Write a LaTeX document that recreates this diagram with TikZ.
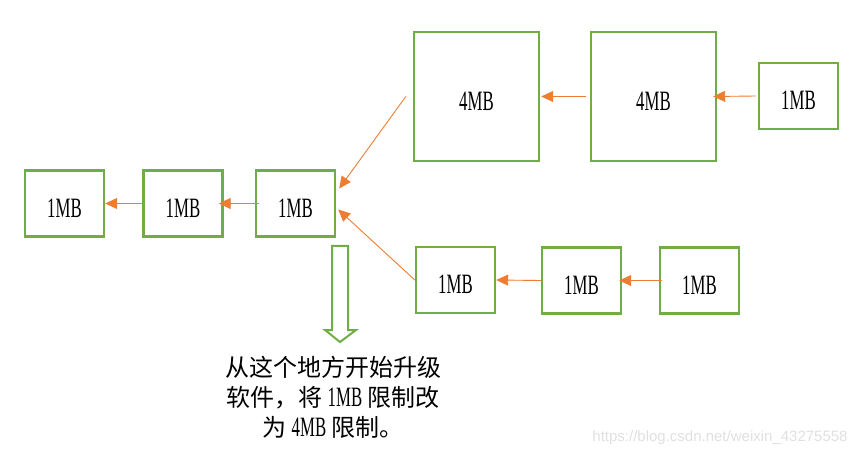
\documentclass[tikz,border=0pt]{standalone}
\usepackage{fontspec}
\usepackage{graphicx}
\setmainfont{Liberation Serif}
\newfontfamily\cjk{Noto Sans CJK SC}
\newfontfamily\wmfont{Liberation Sans}
\usetikzlibrary{arrows.meta}
\definecolor{boxgreen}{RGB}{112,173,71}
\definecolor{arrorange}{RGB}{237,125,49}
\newcommand{\mbtxt}[1]{{\rmfamily\fontsize{28}{28}\selectfont\scalebox{0.6}[1]{#1}}}
\begin{document}
\begin{tikzpicture}[x=1pt,y=-1pt,
  box/.style={draw=boxgreen, line width=2.4pt, minimum width=79pt, minimum height=66pt, inner sep=0pt, text height=28pt, text depth=0pt},
  bigbox/.style={box, minimum width=125pt, minimum height=129pt},
  conn/.style={draw=arrorange, line width=0.9pt, -{Triangle[length=12pt,width=11pt]}},
  blockarrow/.style={draw=boxgreen, line width=2pt, fill=white, line join=miter},
  note/.style={font=\cjk\fontsize{24}{30}\selectfont, align=center, inner sep=0pt},
  watermark/.style={text=black!12, font=\wmfont\fontsize{15}{15}\selectfont, inner sep=0pt}]
\useasboundingbox (0,0) rectangle (865,457);
% chain on the left
\node[box] (A) at (64.5,203.5) {\mbtxt{1MB}};
\node[box] (B) at (183,203.5) {\mbtxt{1MB}};
\node[box] (C) at (295.5,203.5) {\mbtxt{1MB}};
% upper branch
\node[bigbox] (D) at (476.5,96.5) {\mbtxt{4MB}};
\node[bigbox] (E) at (653.5,96.5) {\mbtxt{4MB}};
\node[box] (F) at (798.5,96) {\mbtxt{1MB}};
% lower branch
\node[box] (G) at (455.5,280) {\mbtxt{1MB}};
\node[box] (H) at (581.5,280.5) {\mbtxt{1MB}};
\node[box] (I) at (699.5,280.5) {\mbtxt{1MB}};
% connectors
\draw[conn] (B.west) -- (A.east);
\draw[conn] ([xshift=4pt]C.west) -- ([xshift=-5pt]B.east);
\draw[conn] ([xshift=-4pt]E.west) -- ([xshift=1pt]D.east);
\draw[conn] ([xshift=-2pt]F.west) -- ([xshift=-4pt]E.east);
\draw[conn] (H.west) -- (G.east);
\draw[conn] ([xshift=3pt]I.west) -- ([xshift=-3pt]H.east);
\draw[conn] ([xshift=-7pt]D.west) -- ([shift={(3pt,15pt)}]C.east);
\draw[conn] (G.west) -- ([shift={(2pt,-6pt)}]C.east);
% hollow down arrow
\draw[blockarrow] (332,246) -- (348,246) -- (348,330) -- (356,330) -- (340,342) -- (325,330) -- (332,330) -- cycle;
% note
\node[note] (T) at (333,397) {从这个地方开始升级\\软件，将 \mbtxt{1MB} 限制改\\为 \mbtxt{4MB} 限制。};
\node[watermark] (W) at (720,438) {https://blog.csdn.net/weixin\_43275558};
\end{tikzpicture}
\end{document}
